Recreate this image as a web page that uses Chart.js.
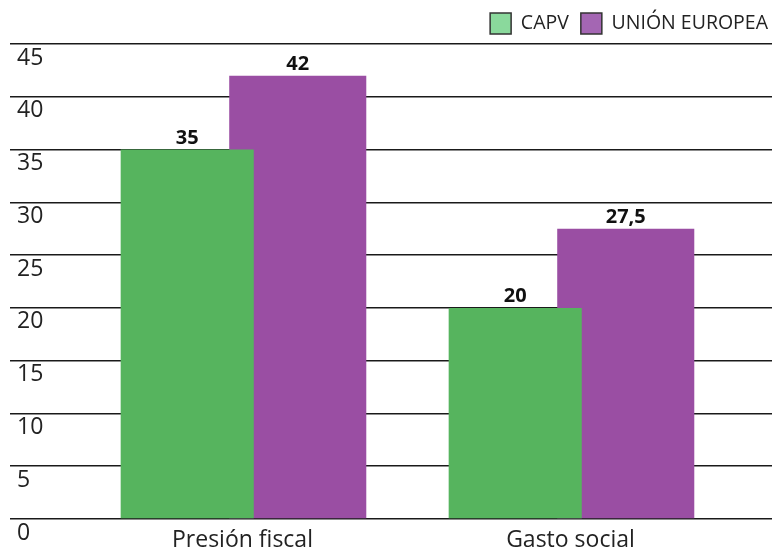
<!DOCTYPE html>
<html>
<head>
<meta charset="utf-8">
<script src="https://cdn.jsdelivr.net/npm/chart.js@4.4.1/dist/chart.umd.min.js"></script>
<style>
  html, body { margin: 0; padding: 0; background: #ffffff; }
  #wrap { width: 772px; height: 553px; position: relative; }
</style>
</head>
<body>
<div id="wrap"><canvas id="c" width="772" height="553"></canvas></div>
<script>
// ---- data ----
const categories = ["Presión fiscal", "Gasto social"];
const seriesNames = ["CAPV", "UNIÓN EUROPEA"];
const capvValues = [35, 20];
const ueValues = [42, 27.5];
const yTicks = [0, 5, 10, 15, 20, 25, 30, 35, 40, 45];

const barColors = ["#56b45e", "#9a4ea3"];
const legendColors = ["#8ad99c", "#a466b3"];

function fmt(v) { return String(v).replace('.', ','); }

const valueLabelPlugin = {
  id: 'valueLabels',
  afterDatasetsDraw(chart) {
    const ctx = chart.ctx;
    ctx.save();
    ctx.font = "bold 20px 'Open Sans', 'Liberation Sans', sans-serif";
    ctx.fillStyle = "#111";
    ctx.textAlign = "center";
    ctx.textBaseline = "alphabetic";
    chart.data.datasets.forEach((ds, di) => {
      const meta = chart.getDatasetMeta(di);
      meta.data.forEach((bar, i) => {
        ctx.fillText(fmt(ds.data[i].y), bar.x, bar.y - 6);
      });
    });
    ctx.restore();
  }
};

// nudge the legend box to the right edge of the canvas
const legendShiftPlugin = {
  id: 'legendShift',
  afterLayout(chart) {
    if (chart.legend) { chart.legend.left += 8; chart.legend.right += 8; }
  }
};

const points = (vals) => vals.map((v, i) => ({ x: i, y: v }));

new Chart(document.getElementById('c'), {
  type: 'bar',
  data: {
    datasets: [
      { label: seriesNames[0], data: points(capvValues), backgroundColor: barColors[0], borderWidth: 0, barPercentage: 1.204 },
      { label: seriesNames[1], data: points(ueValues), backgroundColor: barColors[1], borderWidth: 0, barPercentage: 1.24 }
    ]
  },
  options: {
    responsive: false,
    animation: false,
    devicePixelRatio: 1,
    categoryPercentage: 0.674,
    layout: { padding: { left: 10, right: 0, top: 1, bottom: 0 } },
    plugins: {
      tooltip: { enabled: false },
      legend: {
        position: 'top',
        align: 'end',
        labels: {
          boxWidth: 21,
          boxHeight: 21,
          padding: 12,
          color: '#222',
          font: { size: 19.5, family: "'Open Sans', 'Liberation Sans', sans-serif" },
          generateLabels(chart) {
            return chart.data.datasets.map((ds, i) => ({
              text: ds.label,
              fillStyle: legendColors[i],
              strokeStyle: '#333',
              lineWidth: 1.5,
              datasetIndex: i,
              fontColor: '#222'
            }));
          }
        }
      }
    },
    scales: {
      x: {
        type: 'linear',
        offset: false,
        min: -0.7088,
        max: 1.6144,
        afterBuildTicks(scale) { scale.ticks = categories.map((c, i) => ({ value: i })); },
        afterFit(scale) { scale.height = 34; },
        grid: { display: false, drawTicks: false },
        border: { display: false },
        ticks: {
          padding: 8,
          color: '#222',
          font: { size: 23, family: "'Open Sans', 'Liberation Sans', sans-serif" },
          callback: (v) => categories[v] !== undefined ? categories[v] : ''
        }
      },
      y: {
        min: 0,
        max: 45,
        afterBuildTicks(scale) { scale.ticks = yTicks.map(v => ({ value: v })); },
        afterFit(scale) { scale.width = 0; },
        grid: { color: '#1a1a1a', lineWidth: 1.5, drawTicks: false },
        border: { display: false },
        ticks: {
          mirror: true,
          padding: 7,
          labelOffset: 14,
          color: '#222',
          font: { size: 23, family: "'Open Sans', 'Liberation Sans', sans-serif" }
        }
      }
    }
  },
  plugins: [valueLabelPlugin, legendShiftPlugin]
});
</script>
</body>
</html>
